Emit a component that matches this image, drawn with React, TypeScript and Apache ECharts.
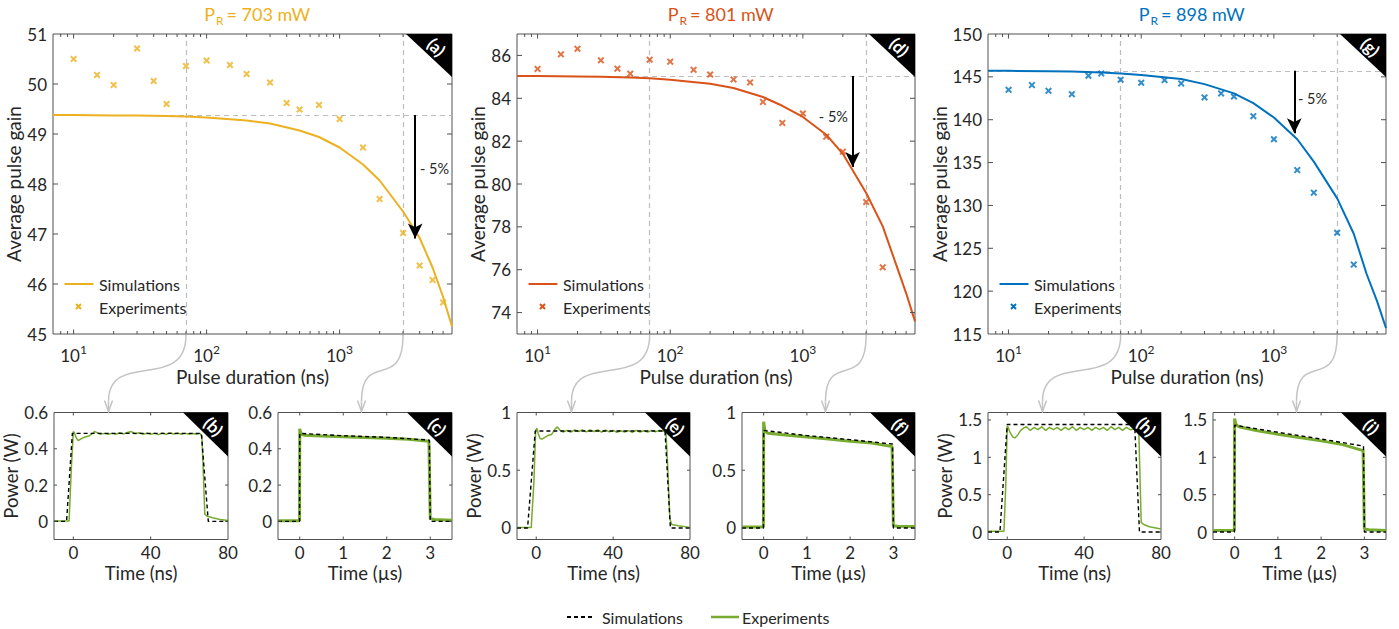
import React, { useEffect, useRef } from 'react';
import * as echarts from 'echarts';

// ---------------- data ----------------
const expDurations = [10, 15, 20, 30, 40, 50, 70, 100, 150, 200, 300, 400, 500, 700, 1000, 1500, 2000, 3000, 4000, 5000, 6000];
const expGain703 = [50.50, 50.18, 49.98, 50.71, 50.06, 49.60, 50.36, 50.47, 50.38, 50.20, 50.03, 49.62, 49.49, 49.58, 49.30, 48.73, 47.70, 47.02, 46.37, 46.08, 45.63];
const expGain801 = [85.37, 86.05, 86.31, 85.77, 85.38, 85.15, 85.80, 85.71, 85.33, 85.11, 84.88, 84.74, 83.83, 82.85, 83.29, 82.21, 81.51, 79.16, 76.11];
const expGain898 = [143.49, 144.04, 143.37, 142.98, 145.13, 145.40, 144.66, 144.31, 144.62, 144.23, 142.60, 143.07, 142.71, 140.41, 137.72, 134.13, 131.49, 126.81, 123.10];

const simDurations = [7, 10, 20, 30, 50, 70, 100, 200, 300, 500, 700, 1000, 1500, 2000, 3000, 4000, 5000, 6000, 7000];
const simGain703 = [49.38, 49.38, 49.37, 49.37, 49.36, 49.35, 49.33, 49.27, 49.21, 49.07, 48.94, 48.73, 48.39, 48.07, 47.45, 46.92, 46.33, 45.74, 45.15];
const simGain801 = [85.04, 85.04, 85.02, 85.00, 84.97, 84.93, 84.87, 84.68, 84.48, 84.06, 83.65, 83.13, 82.30, 81.41, 79.58, 78.02, 76.31, 74.91, 73.59];
const simGain898 = [145.71, 145.70, 145.66, 145.62, 145.52, 145.40, 145.21, 144.74, 144.15, 143.07, 141.93, 140.26, 137.72, 135.11, 130.82, 126.70, 122.00, 118.80, 115.70];

const refGain = [49.38, 85.04, 145.71];
const gainAt5pct = [46.91, 80.79, 138.42];
const durAt5pct = [3700, 2370, 1425];
const markedDurations = [70, 3000];
const powerLabels = ['703', '801', '898'];

// pulse traces, 70 ns pulses (time in ns)
const simT70_703 = [-10, -3.5, -0.5, 66.2, 69.8, 80];
const simP70_703 = [0, 0, 0.485, 0.485, 0, 0];
const expT70_703 = [-10, -2.2, -1, 0, 0.5, 1.5, 2.5, 4, 6, 8, 10, 11, 12.5, 14, 16, 18, 20, 22, 24, 26, 28, 30, 32, 34, 36, 38, 40, 42, 44, 46, 48, 50, 52, 54, 56, 58, 60, 62, 64, 65.5, 66.5, 67.3, 68, 69, 72, 76, 80];
const expP70_703 = [0.002, 0.002, 0.3, 0.495, 0.49, 0.46, 0.445, 0.455, 0.465, 0.47, 0.485, 0.495, 0.488, 0.48, 0.485, 0.48, 0.485, 0.48, 0.488, 0.482, 0.49, 0.495, 0.483, 0.488, 0.48, 0.486, 0.48, 0.485, 0.478, 0.486, 0.48, 0.487, 0.482, 0.486, 0.48, 0.485, 0.48, 0.484, 0.48, 0.485, 0.47, 0.25, 0.04, 0.03, 0.02, 0.01, 0.005];

const simT70_801 = [-10, -4.5, -0.5, 67, 69.8, 80];
const simP70_801 = [0, 0, 0.84, 0.84, 0, 0];
const expT70_801 = [-10, -2.6, -1.2, -0.3, 0.3, 1, 2, 3, 4.5, 6, 8, 10, 11, 12.5, 14, 16, 18, 20, 22, 24, 26, 28, 30, 32, 34, 36, 38, 40, 42, 44, 46, 48, 50, 52, 54, 56, 58, 60, 62, 64, 66, 67.5, 68.5, 69.5, 70.5, 74, 80];
const expP70_801 = [0.003, 0.003, 0.4, 0.84, 0.865, 0.82, 0.775, 0.77, 0.785, 0.8, 0.81, 0.86, 0.875, 0.845, 0.83, 0.845, 0.83, 0.85, 0.835, 0.85, 0.832, 0.848, 0.835, 0.85, 0.83, 0.848, 0.832, 0.845, 0.828, 0.842, 0.83, 0.843, 0.828, 0.845, 0.83, 0.842, 0.83, 0.845, 0.832, 0.845, 0.84, 0.83, 0.5, 0.08, 0.03, 0.02, 0.005];

const simT70_898 = [-10, -3.8, 0, 66.3, 68.8, 80];
const simP70_898 = [0, 0, 1.44, 1.44, 0, 0];
const expT70_898 = [-10, -1.7, -0.8, 0, 0.5, 1.5, 3, 4, 5.5, 7, 8.5, 10, 12, 14, 16, 18, 20, 22, 24, 26, 28, 30, 32, 34, 36, 38, 40, 42, 44, 46, 48, 50, 52, 54, 56, 58, 60, 62, 64, 66, 67.5, 68.5, 69.7, 71, 74, 80];
const expP70_898 = [0.01, 0.01, 0.6, 1.42, 1.40, 1.33, 1.27, 1.26, 1.30, 1.36, 1.39, 1.41, 1.36, 1.40, 1.37, 1.41, 1.36, 1.40, 1.37, 1.40, 1.36, 1.40, 1.37, 1.41, 1.36, 1.40, 1.37, 1.40, 1.36, 1.40, 1.37, 1.40, 1.36, 1.41, 1.37, 1.40, 1.36, 1.40, 1.37, 1.38, 1.36, 1.30, 0.13, 0.10, 0.07, 0.04];

// pulse traces, 3 us pulses (time in us)
const simT3 = [-0.5, -0.005, 0, 1, 2, 2.98, 3.0, 3.5];
const simP3_703 = [0, 0, 0.485, 0.472, 0.463, 0.448, 0, 0];
const simP3_801 = [0, 0, 0.845, 0.80, 0.765, 0.727, 0, 0];
const simP3_898 = [0, 0, 1.43, 1.335, 1.245, 1.15, 0, 0];
const expT3 = [-0.5, -0.005, 0, 0.03, 0.1, 0.5, 1, 1.5, 2, 2.5, 2.97, 3.0, 3.1, 3.5];
const expP3_703 = [0.004, 0.004, 0.51, 0.48, 0.475, 0.471, 0.467, 0.462, 0.458, 0.452, 0.442, 0.015, 0.01, 0.006];
const expP3_801 = [0.008, 0.008, 0.92, 0.84, 0.82, 0.805, 0.787, 0.77, 0.752, 0.735, 0.705, 0.02, 0.015, 0.012];
const expP3_898 = [0.02, 0.02, 1.52, 1.44, 1.41, 1.36, 1.31, 1.265, 1.22, 1.17, 1.09, 0.04, 0.03, 0.02];

// tick values
const logMajorTicks = [10, 100, 1000];
const logMinorTicks = [8, 9, 20, 30, 40, 50, 60, 70, 80, 90, 200, 300, 400, 500, 600, 700, 800, 900, 2000, 3000, 4000, 5000, 6000];
const gainTicks703 = [46, 47, 48, 49, 50];
const gainTicks801 = [74, 76, 78, 80, 82, 84, 86];
const gainTicks898 = [120, 125, 130, 135, 140, 145];
const nsTicks = [0, 40];
const usTicks = [0, 1, 2, 3];
const powTicks703 = [0, 0.2, 0.4];
const powTicks801 = [0, 0.5];
const powTicks898 = [0, 0.5, 1, 1.5];

// ---------------- style / layout ----------------
const FONT = 'Lato, "Open Sans", sans-serif';
const TXT = '#262626';
const AX = '#505050';
const GREEN = '#77AC30';
const COLORS = ['#EDB120', '#D95319', '#0072BD'];
const X_SYMBOL = 'path://M0,2 L2,0 L5,3 L8,0 L10,2 L7,5 L10,8 L8,10 L5,7 L2,10 L0,8 L3,5 Z';
const TICK_FS = 17;
const NAME_FS = 19;
const BOT_NAME_FS = 18.5;

const TOP_T = 34, TOP_H = 300;
const BOT_T = 412.5, BOT_H = 127;
const topLayout = [
  { left: 53, width: 399, nameGap: 23.5 },
  { left: 517, width: 398, nameGap: 25 },
  { left: 988, width: 398, nameGap: 35.5 },
];
const botLayout = [
  { left: 54, width: 174 }, { left: 278, width: 174 },
  { left: 517, width: 173 }, { left: 742, width: 173 },
  { left: 988, width: 173 }, { left: 1213, width: 173 },
];

const zip = (a: number[], b: number[]) => a.map((v, i) => [v, b[i]]);

function tickSeries(gi: number, xr: number[], yr: number[], xt: number[][], yt: number[][]) {
  const items: number[][] = [];
  xt.forEach(([v, len]) => { items.push([v, yr[0], 0, len]); items.push([v, yr[1], 1, len]); });
  yt.forEach(([v, len]) => { items.push([xr[0], v, 2, len]); items.push([xr[1], v, 3, len]); });
  return {
    type: 'custom', xAxisIndex: gi, yAxisIndex: gi, data: items, silent: true, z: 5,
    renderItem: (params: any, api: any) => {
      const p = api.coord([api.value(0), api.value(1)]);
      const side = api.value(2), len = api.value(3);
      let x2 = p[0], y2 = p[1];
      if (side === 0) y2 -= len; else if (side === 1) y2 += len; else if (side === 2) x2 += len; else x2 -= len;
      return { type: 'line', shape: { x1: p[0], y1: p[1], x2, y2 }, style: { stroke: AX, lineWidth: 1 } };
    },
  };
}

function buildOption() {
  const grid: any[] = [];
  const xAxis: any[] = [];
  const yAxis: any[] = [];
  const series: any[] = [];
  const graphic: any[] = [];

  const tops = [
    { exp: expGain703, sim: simGain703, yr: [45, 51], interval: 1, fmt: (v: number) => String(v), yt: gainTicks703 },
    { exp: expGain801, sim: simGain801, yr: [73, 87], interval: 1, fmt: (v: number) => (Math.round(v) % 2 === 0 ? String(Math.round(v)) : ''), yt: gainTicks801 },
    { exp: expGain898, sim: simGain898, yr: [115, 150], interval: 5, fmt: (v: number) => String(v), yt: gainTicks898 },
  ];
  tops.forEach((p, i) => {
    const L = topLayout[i];
    const color = COLORS[i];
    grid.push({ left: L.left, top: TOP_T, width: L.width, height: TOP_H, show: true, borderColor: AX, borderWidth: 1, backgroundColor: 'transparent', containLabel: false, outerBoundsMode: 'none' });
    xAxis.push({
      gridIndex: i, type: 'log', logBase: 10, min: 7, max: 7000,
      axisLine: { show: false }, axisTick: { show: false }, splitLine: { show: false },
      axisLabel: {
        margin: 9, color: TXT, fontFamily: FONT,
        formatter: (v: number) => {
          const e = Math.log10(v);
          if (Math.abs(e - Math.round(e)) > 1e-6) return '';
          return `{b|10}{s|${Math.round(e)}}`;
        },
        rich: {
          b: { fontSize: TICK_FS, color: TXT, fontFamily: FONT, lineHeight: 24 },
          s: { fontSize: 12, color: TXT, fontFamily: FONT, verticalAlign: 'top', lineHeight: 13 },
        },
      },
      name: 'Pulse duration (ns)', nameLocation: 'middle', nameGap: 33,
      nameTextStyle: { fontSize: NAME_FS, color: TXT, fontFamily: FONT },
    });
    yAxis.push({
      gridIndex: i, type: 'value', min: p.yr[0], max: p.yr[1], interval: p.interval,
      axisLine: { show: false }, axisTick: { show: false }, splitLine: { show: false },
      axisLabel: { margin: 6, fontSize: TICK_FS, color: TXT, fontFamily: FONT, formatter: p.fmt },
      name: 'Average pulse gain', nameLocation: 'middle', nameGap: L.nameGap,
      nameTextStyle: { fontSize: NAME_FS, color: TXT, fontFamily: FONT },
    });
    series.push({
      type: 'line', name: 'Simulations', xAxisIndex: i, yAxisIndex: i,
      data: zip(simDurations, p.sim), symbol: 'none', lineStyle: { color, width: 2 }, z: 3,
      markLine: {
        silent: true, symbol: 'none', z: 1, label: { show: false },
        lineStyle: { color: '#bdbdbd', type: [5, 4], width: 1.2 },
        data: [{ xAxis: markedDurations[0] }, { xAxis: markedDurations[1] }, { yAxis: refGain[i] }],
      },
    });
    series.push({
      type: 'scatter', name: 'Experiments', xAxisIndex: i, yAxisIndex: i,
      data: zip(expDurations.slice(0, p.exp.length), p.exp),
      symbol: X_SYMBOL, symbolSize: 7, itemStyle: { color }, z: 4,
      markLine: {
        silent: true, z: 6, label: { show: false }, symbol: ['none', 'arrow'], symbolSize: [11, 15],
        lineStyle: { color: '#000', width: 2, type: 'solid' },
        data: [[{ coord: [durAt5pct[i], refGain[i]] }, { coord: [durAt5pct[i], gainAt5pct[i]] }]],
      },
    });
    series.push(tickSeries(i, [7, 7000], p.yr,
      [...logMajorTicks.map((v) => [v, 4.5]), ...logMinorTicks.map((v) => [v, 3])],
      p.yt.map((v) => [v, 5])));

    // title with subscript
    const cx = L.left + L.width / 2;
    graphic.push({ type: 'text', x: cx - 37.5, y: 14, z: 100, style: { text: 'P', fontSize: 18, fontFamily: FONT, fill: color, align: 'right', verticalAlign: 'middle' } });
    graphic.push({ type: 'text', x: cx - 36.5, y: 20.5, z: 100, style: { text: 'R', fontSize: 12, fontFamily: FONT, fill: color, align: 'left', verticalAlign: 'middle' } });
    graphic.push({ type: 'text', x: cx - 26, y: 14, z: 100, style: { text: `= ${powerLabels[i]} mW`, fontSize: 18, fontFamily: FONT, fill: color, align: 'left', verticalAlign: 'middle' } });

    // corner tag
    const R = L.left + L.width;
    graphic.push({ type: 'polygon', z: 100, shape: { points: [[R - 46, TOP_T], [R, TOP_T], [R, TOP_T + 43]] }, style: { fill: '#000' } });
    graphic.push({ type: 'text', x: R - 15.5, y: TOP_T + 13, rotation: -Math.PI / 4, z: 101, style: { text: `(${'adg'[i]})`, fontSize: 17, fontWeight: 'bold', fontFamily: FONT, fill: '#fff', align: 'center', verticalAlign: 'middle' } });

    // in-plot legend
    graphic.push({ type: 'line', z: 100, shape: { x1: L.left + 11.5, y1: 284, x2: L.left + 40.5, y2: 284 }, style: { stroke: color, lineWidth: 2 } });
    graphic.push({ type: 'text', x: L.left + 46, y: 284, z: 100, style: { text: 'Simulations', fontSize: 16, fontFamily: FONT, fill: TXT, align: 'left', verticalAlign: 'middle' } });
    graphic.push({ type: 'line', z: 100, shape: { x1: L.left + 23, y1: 304, x2: L.left + 28, y2: 309 }, style: { stroke: color, lineWidth: 2 } });
    graphic.push({ type: 'line', z: 100, shape: { x1: L.left + 28, y1: 304, x2: L.left + 23, y2: 309 }, style: { stroke: color, lineWidth: 2 } });
    graphic.push({ type: 'text', x: L.left + 46, y: 307, z: 100, style: { text: 'Experiments', fontSize: 16, fontFamily: FONT, fill: TXT, align: 'left', verticalAlign: 'middle' } });
  });

  // "- 5%" labels
  const pct = [
    { x: 420, y: 168, align: 'left' },
    { x: 848, y: 116, align: 'right' },
    { x: 1298, y: 98.5, align: 'left' },
  ];
  pct.forEach((p) => graphic.push({ type: 'text', x: p.x, y: p.y, z: 100, style: { text: '- 5%', fontSize: 14.5, fontFamily: FONT, fill: TXT, align: p.align, verticalAlign: 'middle' } }));

  const bots = [
    { tag: 'b', xr: [-10, 80], xi: 10, yr: [-0.1, 0.6], step: 2, exp: zip(expT70_703, expP70_703), sim: zip(simT70_703, simP70_703), ns: true, yt: powTicks703, ylab: true },
    { tag: 'c', xr: [-0.5, 3.5], xi: 0.5, yr: [-0.1, 0.6], step: 2, exp: zip(expT3, expP3_703), sim: zip(simT3, simP3_703), ns: false, yt: powTicks703, ylab: false },
    { tag: 'e', xr: [-10, 80], xi: 10, yr: [-0.1, 1], step: 5, exp: zip(expT70_801, expP70_801), sim: zip(simT70_801, simP70_801), ns: true, yt: powTicks801, ylab: true },
    { tag: 'f', xr: [-0.5, 3.5], xi: 0.5, yr: [-0.1, 1], step: 5, exp: zip(expT3, expP3_801), sim: zip(simT3, simP3_801), ns: false, yt: powTicks801, ylab: false },
    { tag: 'h', xr: [-10, 80], xi: 10, yr: [-0.1, 1.6], step: 5, exp: zip(expT70_898, expP70_898), sim: zip(simT70_898, simP70_898), ns: true, yt: powTicks898, ylab: true },
    { tag: 'i', xr: [-0.5, 3.5], xi: 0.5, yr: [-0.1, 1.6], step: 5, exp: zip(expT3, expP3_898), sim: zip(simT3, simP3_898), ns: false, yt: powTicks898, ylab: false },
  ];
  bots.forEach((p, k) => {
    const gi = 3 + k;
    const L = botLayout[k];
    grid.push({ left: L.left, top: BOT_T, width: L.width, height: BOT_H, show: true, borderColor: AX, borderWidth: 1, backgroundColor: 'transparent', containLabel: false, outerBoundsMode: 'none' });
    xAxis.push({
      gridIndex: gi, type: 'value', min: p.xr[0], max: p.xr[1], interval: p.xi,
      axisLine: { show: false }, axisTick: { show: false }, splitLine: { show: false },
      axisLabel: {
        margin: 4, fontSize: TICK_FS, color: TXT, fontFamily: FONT,
        formatter: p.ns
          ? (v: number) => { const r = Math.round(v); return r >= 0 && r % 40 === 0 ? String(r) : ''; }
          : (v: number) => { const r = Math.round(v * 2); return r >= 0 && r % 2 === 0 ? String(r / 2) : ''; },
      },
      name: p.ns ? 'Time (ns)' : 'Time (µs)', nameLocation: 'middle', nameGap: 23.5,
      nameTextStyle: { fontSize: BOT_NAME_FS, color: TXT, fontFamily: FONT },
    });
    yAxis.push({
      gridIndex: gi, type: 'value', min: p.yr[0], max: p.yr[1], interval: 0.1,
      axisLine: { show: false }, axisTick: { show: false }, splitLine: { show: false },
      axisLabel: {
        margin: 6, fontSize: TICK_FS, color: TXT, fontFamily: FONT,
        formatter: (v: number) => { const r = Math.round(v * 10); return r >= 0 && r % p.step === 0 ? String(r / 10) : ''; },
      },
      name: p.ylab ? 'Power (W)' : '', nameLocation: 'middle', nameGap: 26.5,
      nameTextStyle: { fontSize: BOT_NAME_FS, color: TXT, fontFamily: FONT },
    });
    series.push({
      type: 'line', name: 'Experiments', xAxisIndex: gi, yAxisIndex: gi, data: p.exp, symbol: 'none',
      lineStyle: { color: GREEN, width: p.ns ? 1.5 : 3 }, z: 3,
    });
    series.push({
      type: 'line', name: 'Simulations', xAxisIndex: gi, yAxisIndex: gi, data: p.sim, symbol: 'none',
      lineStyle: { color: '#000', width: 1.4, type: [4, 3] }, z: 4,
    });
    series.push(tickSeries(gi, p.xr, p.yr,
      (p.ns ? nsTicks : usTicks).map((v) => [v, 3]), p.yt.map((v) => [v, 3])));

    const R = L.left + L.width;
    graphic.push({ type: 'polygon', z: 100, shape: { points: [[R - 45, BOT_T], [R, BOT_T], [R, BOT_T + 44]] }, style: { fill: '#000' } });
    graphic.push({ type: 'text', x: R - 14.5, y: BOT_T + 14, rotation: -Math.PI / 4, z: 101, style: { text: `(${p.tag})`, fontSize: 17, fontWeight: 'bold', fontFamily: FONT, fill: '#fff', align: 'center', verticalAlign: 'middle' } });
  });

  // bottom legend
  graphic.push({ type: 'line', z: 100, shape: { x1: 567, y1: 617, x2: 592, y2: 617 }, style: { stroke: '#000', lineWidth: 2, lineDash: [4, 3] } });
  graphic.push({ type: 'text', x: 602, y: 617, z: 100, style: { text: 'Simulations', fontSize: 16, fontFamily: FONT, fill: TXT, align: 'left', verticalAlign: 'middle' } });
  graphic.push({ type: 'line', z: 100, shape: { x1: 711, y1: 617, x2: 739, y2: 617 }, style: { stroke: GREEN, lineWidth: 2.5 } });
  graphic.push({ type: 'text', x: 742, y: 617, z: 100, style: { text: 'Experiments', fontSize: 16, fontFamily: FONT, fill: TXT, align: 'left', verticalAlign: 'middle' } });

  return {
    animation: false,
    textStyle: { fontFamily: FONT },
    grid, xAxis, yAxis, series, graphic,
  };
}

function buildArrows(chart: any) {
  const els: any[] = [];
  const targets = [54.5, 83.5];
  [0, 1, 2].forEach((gi) => {
    markedDurations.forEach((d, j) => {
      const xs = chart.convertToPixel({ xAxisIndex: gi }, d);
      const bl = botLayout[gi * 2 + j];
      const xe = bl.left + targets[j];
      const y0 = TOP_T + TOP_H + 1;
      const y1 = BOT_T - 1;
      const yc = y1 - 10;
      els.push({ type: 'bezierCurve', z: 90, shape: { x1: xs, y1: y0, cpx1: xs, cpy1: y0 + 58, cpx2: xe, cpy2: y0 + 14, x2: xe, y2: yc }, style: { stroke: '#c4c4c4', lineWidth: 1.5, fill: null } });
      els.push({ type: 'line', z: 90, shape: { x1: xe, y1: yc, x2: xe, y2: y1 }, style: { stroke: '#c4c4c4', lineWidth: 1.5 } });
      els.push({ type: 'polyline', z: 90, shape: { points: [[xe - 4, y1 - 11], [xe, y1], [xe + 4, y1 - 11]] }, style: { stroke: '#c4c4c4', lineWidth: 1.5, fill: null } });
    });
  });
  return els;
}

export default function App() {
  const ref = useRef<HTMLDivElement>(null);
  useEffect(() => {
    const chart = echarts.init(ref.current as HTMLDivElement, null, { renderer: 'svg' });
    const option: any = buildOption();
    chart.setOption(option);
    const arrows = buildArrows(chart);
    chart.setOption({ graphic: { elements: [...option.graphic, ...arrows] } });
    return () => chart.dispose();
  }, []);
  return (
    <div
      ref={ref}
      style={{ position: 'absolute', left: 0, top: 0, width: 1399, height: 629, background: '#fff' }}
    />
  );
}
